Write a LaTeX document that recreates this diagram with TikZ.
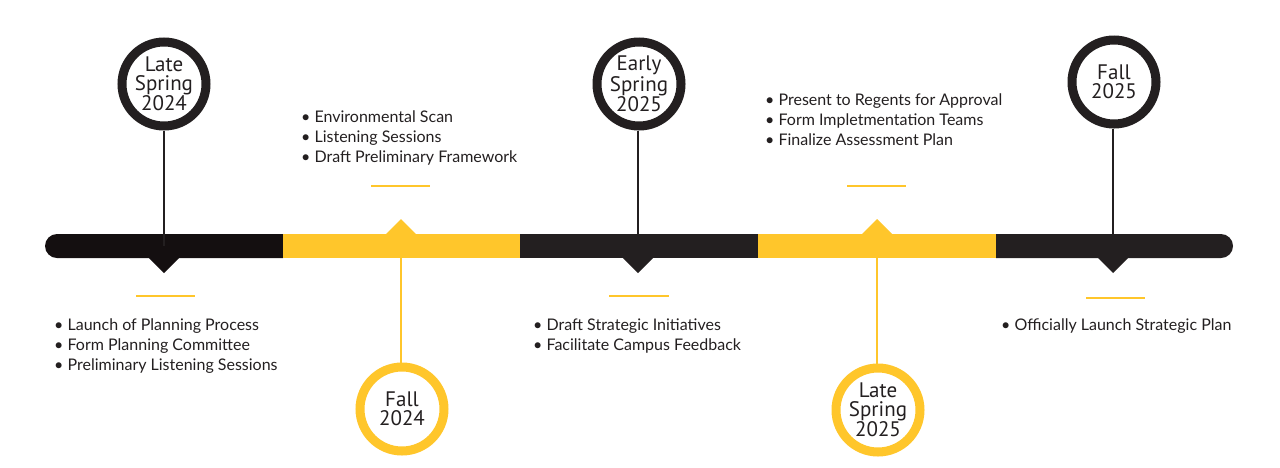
\documentclass[tikz,border=0pt]{standalone}
\usepackage{fontspec}
\setmainfont{Lato}
\newfontfamily\circfont{PT Sans}
\definecolor{gold}{HTML}{FFC62B}
\definecolor{ink}{HTML}{231F20}
\definecolor{ink2}{HTML}{140F10}
\begin{document}
\begin{tikzpicture}[x=1pt,y=-1pt,
  ringblack/.style={circle,draw=ink,line width=9pt,fill=white,minimum size=84pt,inner sep=0pt,align=center,font=\circfont\fontsize{21}{19}\selectfont,text=ink},
  ringgold/.style={ringblack,draw=gold},
  stemblack/.style={draw=ink,line width=2pt},
  stemgold/.style={draw=gold,line width=2pt},
  dashgold/.style={draw=gold,line width=2pt},
  bullets/.style={anchor=north west,align=left,inner sep=0pt,font=\fontsize{16}{20}\selectfont,text=ink}]
\useasboundingbox (0,0) rectangle (1280,467);
% bar segments
\fill[ink2] (57,234) arc[start angle=270,end angle=90,radius=12] -- (283,258) -- (283,234) -- cycle;
\fill[gold] (283,234) rectangle (520,258);
\fill[ink] (520,234) rectangle (758,258);
\fill[gold] (758,234) rectangle (996,258);
\fill[ink] (996,234) -- (1221,234) arc[start angle=270,end angle=450,radius=12] -- (996,258) -- cycle;
% markers (anchors on the bar)
\coordinate (m1) at (164,246);
\coordinate (m2) at (401,246);
\coordinate (m3) at (638,246);
\coordinate (m4) at (877,246);
\coordinate (m5) at (1113,246);
% triangles
\fill[ink2] (148,257) -- (180,257) -- (164,273) -- cycle;
\fill[ink] (622,257) -- (654,257) -- (638,273) -- cycle;
\fill[ink] (1097,257) -- (1129,257) -- (1113,273) -- cycle;
\fill[gold] (385,235) -- (417,235) -- (401,219) -- cycle;
\fill[gold] (861,235) -- (893,235) -- (877,219) -- cycle;
% circles
\node[ringblack] (c1) at (164,84) {Late\\Spring\\2024};
\node[ringgold] (c2) at (402,409) {Fall\\2024};
\node[ringblack] (c3) at (639,84) {Early\\Spring\\2025};
\node[ringgold] (c4) at (878,410) {Late\\Spring\\2025};
\node[ringblack] (c5) at (1114,82) {Fall\\2025};
% stems
\draw[stemblack] (c1.south -| m1) -- (m1);
\draw[stemgold] (m2) -- (c2.north -| m2);
\draw[stemblack] (c3.south -| m3) -- (m3);
\draw[stemgold] (m4) -- (c4.north -| m4);
\draw[stemblack] (c5.south -| m5) -- (m5);
% yellow dashes
\draw[dashgold] (136,296) -- (195,296);
\draw[dashgold] (371,186) -- (430,186);
\draw[dashgold] (609,296) -- (669,296);
\draw[dashgold] (847,186) -- (906,186);
\draw[dashgold] (1086,298) -- (1145,298);
% text blocks
\node[bullets] (t1) at (54,319) {\textbullet\ Launch of Planning Process\\\textbullet\ Form Planning Committee\\\textbullet\ Preliminary Listening Sessions};
\node[bullets] (t2) at (301,111) {\textbullet\ Environmental Scan\\\textbullet\ Listening Sessions\\\textbullet\ Draft Preliminary Framework};
\node[bullets] (t3) at (533,319) {\textbullet\ Draft Strategic Initiatives\\\textbullet\ Facilitate Campus Feedback};
\node[bullets] (t4) at (765,94) {\textbullet\ Present to Regents for Approval\\\textbullet\ Form Impletmentation Teams\\\textbullet\ Finalize Assessment Plan};
\node[bullets] (t5) at (1001,319) {\textbullet\ Officially Launch Strategic Plan};
\end{tikzpicture}
\end{document}
